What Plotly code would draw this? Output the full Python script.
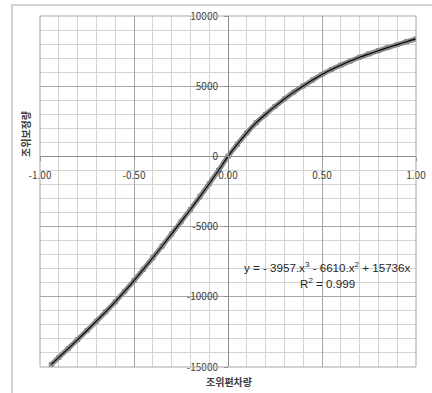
import plotly.graph_objects as go

# data
x_vals = [-0.94, -0.90, -0.85, -0.80, -0.75, -0.70, -0.65, -0.60, -0.55, -0.50,
          -0.45, -0.40, -0.35, -0.30, -0.25, -0.20, -0.15, -0.10, -0.05, 0.00,
          0.05, 0.10, 0.15, 0.20, 0.25, 0.30, 0.35, 0.40, 0.45, 0.50,
          0.55, 0.60, 0.65, 0.70, 0.75, 0.80, 0.85, 0.90, 0.95, 1.00]
y_vals = [-14820, -14320, -13690, -13050, -12400, -11740, -11060, -10360, -9620, -8850,
          -8040, -7220, -6380, -5520, -4650, -3780, -2880, -1950, -990, 0,
          870, 1680, 2400, 3000, 3560, 4090, 4580, 5020, 5440, 5840,
          6190, 6500, 6790, 7060, 7300, 7530, 7750, 7960, 8170, 8370]

x_ticks = [-1.0, -0.5, 0.0, 0.5, 1.0]
x_tick_text = ["-1.00", "-0.50", "0.00", "0.50", "1.00"]
y_ticks = [-15000, -10000, -5000, 0, 5000, 10000]
y_tick_text = ["-15000", "-10000", "-5000", "0", "5000", "10000"]

eq_text = "y = - 3957.x<sup>3</sup> - 6610.x<sup>2</sup> + 15736x"
r2_text = "R<sup>2</sup> = 0.999"
x_title = "조위편차량"
y_title = "조위보정량"

FONT = "Noto Sans CJK KR"
EQFONT = "Liberation Sans Narrow, Liberation Sans, sans-serif"
TXT = "#404040"

fig = go.Figure()
fig.add_trace(go.Scatter(x=x_vals, y=y_vals, mode="lines+markers",
                         line=dict(color="#8a8a8a", width=5, shape="spline"),
                         marker=dict(color="#8a8a8a", size=5, symbol="square"),
                         showlegend=False, hoverinfo="skip"))
fig.add_trace(go.Scatter(x=x_vals, y=y_vals, mode="lines",
                         line=dict(color="#000000", width=1.1, shape="spline"),
                         showlegend=False, hoverinfo="skip"))

fig.update_layout(
    width=432, height=393,
    margin=dict(l=40, r=16, t=16, b=26, autoexpand=False),
    paper_bgcolor="white", plot_bgcolor="white",
    font=dict(family=FONT, size=10, color=TXT),
    xaxis=dict(range=[-1, 1], domain=[0, 1], anchor="free", position=0.6,
               tickvals=x_ticks, ticktext=x_tick_text, automargin=False,
               showgrid=True, gridcolor="#a6a6a6", gridwidth=1,
               minor=dict(dtick=0.1, showgrid=True, gridcolor="#d4d4d4", gridwidth=1),
               showline=True, linecolor="#8c8c8c", linewidth=1,
               ticks="outside", ticklen=4, tickcolor="#8c8c8c",
               ticklabelstandoff=6, zeroline=False,
               tickfont=dict(family=FONT, size=10, color=TXT)),
    yaxis=dict(range=[-15000, 10000], domain=[0, 1], anchor="free", position=0.5,
               tickvals=y_ticks, ticktext=y_tick_text, automargin=False,
               showgrid=True, gridcolor="#a6a6a6", gridwidth=1,
               minor=dict(dtick=1000, showgrid=True, gridcolor="#d4d4d4", gridwidth=1),
               showline=True, linecolor="#8c8c8c", linewidth=1,
               ticks="outside", ticklen=4, tickcolor="#8c8c8c",
               ticklabelstandoff=4, zeroline=False,
               tickfont=dict(family=FONT, size=10, color=TXT)),
    shapes=[
        dict(type="rect", xref="paper", yref="paper", x0=-0.0745, x1=1.2,
             y0=-0.3, y1=1.0313, line=dict(color="#d0d0d0", width=2), layer="below"),
        dict(type="rect", xref="paper", yref="paper", x0=0, x1=1, y0=0, y1=1,
             line=dict(color="#a6a6a6", width=1)),
    ],
    annotations=[
        dict(x=0.527, y=-7877, xref="x", yref="y", text=eq_text, showarrow=False,
             xanchor="center", yanchor="middle",
             font=dict(family=EQFONT, size=11.6, color="#262626")),
        dict(x=0.527, y=-9000, xref="x", yref="y", text=r2_text, showarrow=False,
             xanchor="center", yanchor="middle",
             font=dict(family=EQFONT, size=11.6, color="#262626")),
        dict(x=229, y=381, xref="paper", yref="paper", text="<b>" + x_title + "</b>",
             xanchor="center", yanchor="middle",
             showarrow=False, font=dict(family=FONT, size=10, color=TXT)),
        dict(x=25, y=134, xref="paper", yref="paper", text="<b>" + y_title + "</b>",
             xanchor="center", yanchor="middle",
             textangle=-90, showarrow=False, font=dict(family=FONT, size=10, color=TXT)),
    ],
)

# convert the two axis-title annotations from pixel to paper coordinates
L, T, W, H = 40, 16, 376, 351
anns = list(fig.layout.annotations)
for a in anns[2:]:
    a.x = (a.x - L) / W
    a.y = (T + H - a.y) / H
fig.layout.annotations = anns

fig.write_html("out.html", config={"displayModeBar": False},
               post_script="document.body.style.margin='0';document.body.style.overflow='hidden';")
